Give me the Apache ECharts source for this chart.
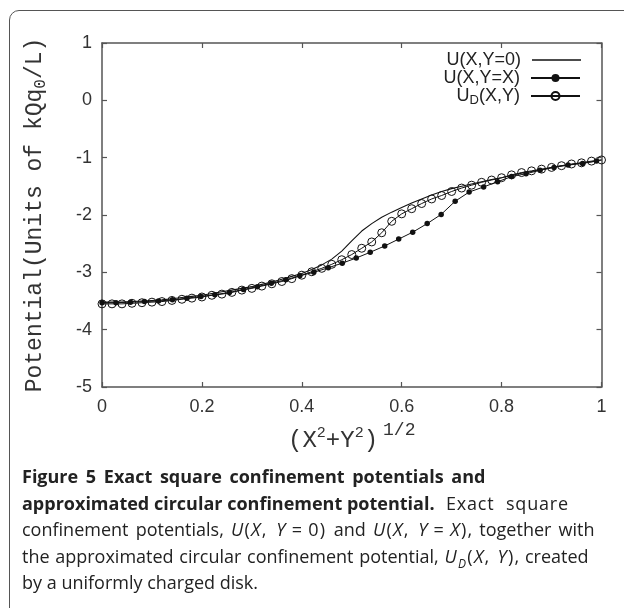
<!DOCTYPE html>
<html>
<head>
<meta charset="utf-8">
<script src="https://cdn.jsdelivr.net/npm/echarts@6/dist/echarts.min.js"></script>
<style>
  html, body { margin: 0; padding: 0; width: 624px; height: 608px; overflow: hidden; background: #fff; }
  #main { position: absolute; left: 0; top: 0; width: 624px; height: 608px; }
  #frame { position: absolute; left: 9px; top: 10px; width: 700px; height: 606px;
           border: 1.5px solid #555; border-radius: 10px; pointer-events: none; }
  #caption { position: absolute; left: 22px; top: 463px; white-space: nowrap;
             font-family: "Open Sans", sans-serif; font-size: 18px; line-height: 26.5px; color: #222; }
  #caption b { font-weight: bold; }
  #caption i { font-style: italic; }
  #caption sub { font-size: 12px; line-height: 0; }
  #caption .m { letter-spacing: 1.3px; }
  #caption .eq { margin: 0 5px; }
  #caption .l1 { word-spacing: 3px; }
  #caption .l2 { letter-spacing: 0.8px; word-spacing: 6px; }
  #caption .l3 { word-spacing: 2.5px; }
  #caption .l4 { word-spacing: 1px; }
</style>
</head>
<body>
<div id="main"></div>
<div id="frame"></div>
<div id="caption">
<b class="l1">Figure 5 Exact square confinement potentials and</b><br>
<b>approximated circular confinement potential.</b><span class="l2"> Exact square</span><br>
<span class="l3">confinement potentials, <span class="m"><i>U</i>(<i>X</i>, <i>Y</i><span class="eq">=</span>0)</span> and <span class="m"><i>U</i>(<i>X</i>, <i>Y</i><span class="eq">=</span><i>X</i>)</span>, together with</span><br>
<span class="l4">the approximated circular confinement potential, <span class="m"><i>U</i><sub><i>D</i></sub>(<i>X</i>, <i>Y</i>)</span>, created</span><br>
by a uniformly charged disk.
</div>
<script>
var chartDom = document.getElementById('main');
var myChart = echarts.init(chartDom);
var option;

// radial positions, step 0.02 (used by U(X,Y=0) and U_D)
var rGrid = [0, 0.02, 0.04, 0.06, 0.08, 0.10, 0.12, 0.14, 0.16, 0.18,
             0.20, 0.22, 0.24, 0.26, 0.28, 0.30, 0.32, 0.34, 0.36, 0.38,
             0.40, 0.42, 0.44, 0.46, 0.48, 0.50, 0.52, 0.54, 0.56, 0.58,
             0.60, 0.62, 0.64, 0.66, 0.68, 0.70, 0.72, 0.74, 0.76, 0.78,
             0.80, 0.82, 0.84, 0.86, 0.88, 0.90, 0.92, 0.94, 0.96, 0.98, 1.00];

// U(X,Y=0) solid line
var uAxis = [-3.52, -3.52, -3.52, -3.51, -3.50, -3.49, -3.48, -3.46, -3.44, -3.42,
             -3.40, -3.37, -3.34, -3.31, -3.28, -3.25, -3.21, -3.17, -3.12, -3.07,
             -3.02, -2.95, -2.87, -2.77, -2.63, -2.45, -2.28, -2.15, -2.04, -1.95,
             -1.87, -1.79, -1.72, -1.65, -1.59, -1.54, -1.50, -1.46, -1.42, -1.38,
             -1.35, -1.31, -1.27, -1.24, -1.21, -1.17, -1.14, -1.12, -1.09, -1.07, -1.04];

// U_D(X,Y) open circles
var uDisk = [-3.55, -3.55, -3.55, -3.54, -3.53, -3.52, -3.51, -3.49, -3.47, -3.45,
             -3.43, -3.40, -3.38, -3.35, -3.31, -3.28, -3.24, -3.20, -3.16, -3.11,
             -3.05, -2.99, -2.93, -2.86, -2.78, -2.69, -2.58, -2.47, -2.31, -2.11,
             -1.98, -1.89, -1.80, -1.72, -1.66, -1.59, -1.53, -1.48, -1.43, -1.39,
             -1.35, -1.30, -1.26, -1.23, -1.20, -1.17, -1.14, -1.11, -1.09, -1.06, -1.04];

// U(X,Y=X) filled dots, sampled along the diagonal
var rDiag = [0, 0.028, 0.057, 0.085, 0.113, 0.141, 0.170, 0.198, 0.226, 0.255,
             0.283, 0.311, 0.339, 0.368, 0.396, 0.424, 0.453, 0.481, 0.509, 0.537,
             0.566, 0.594, 0.622, 0.651, 0.679, 0.707, 0.735, 0.764, 0.792, 0.820,
             0.849, 0.877, 0.905, 0.933, 0.962, 0.990];
var uDiag = [-3.53, -3.53, -3.52, -3.51, -3.50, -3.48, -3.45, -3.42, -3.39, -3.35,
             -3.30, -3.25, -3.19, -3.13, -3.06, -3.00, -2.92, -2.84, -2.75, -2.65,
             -2.54, -2.42, -2.30, -2.15, -1.99, -1.76, -1.60, -1.51, -1.42, -1.33,
             -1.28, -1.22, -1.17, -1.13, -1.10, -1.06];

var xTicks = [0, 0.2, 0.4, 0.6, 0.8, 1];
var yTicks = [-5, -4, -3, -2, -1, 0, 1];

var seriesNames = ['U(X,Y=0)', 'U(X,Y=X)', 'U_D(X,Y)'];

function pairs(xs, ys) {
    return xs.map(function (x, i) { return [x, ys[i]]; });
}

var ink = '#111';
var axisInk = '#555';
var labelFont = { fontFamily: 'Liberation Sans', fontSize: 18, color: '#333' };
var frameLine = { show: true, onZero: false, lineStyle: { color: axisInk, width: 1.5 } };
var innerTick = { show: true, inside: true, length: 5, lineStyle: { color: axisInk, width: 1.2 } };

function legendFor(item, top, h) {
    return {
        data: [item],
        right: 43,
        top: top,
        orient: 'vertical',
        align: 'right',
        itemWidth: 49,
        itemHeight: h,
        itemGap: 0,
        padding: 0,
        selectedMode: false,
        textStyle: {
            fontFamily: 'Liberation Sans', fontSize: 18, color: '#222', padding: [0, 6, 0, 0],
            rich: {
                n: { fontFamily: 'Liberation Sans', fontSize: 18, color: '#222' },
                s: { fontFamily: 'Liberation Sans', fontSize: 13, color: '#222', padding: [9, 0, 0, 0] }
            }
        },
        formatter: function (n) {
            if (n === 'U_D(X,Y)') return '{n|U}{s|D}{n|(X,Y)}';
            return '{n|' + n + '}';
        }
    };
}

option = {
    animation: false,
    grid: { left: 102, right: 22.5, top: 43, bottom: 221 },
    legend: [
        legendFor({ name: seriesNames[0], icon: 'rect' }, 51, 1.4),
        legendFor(seriesNames[1], 69, 10),
        legendFor(seriesNames[2], 87, 10)
    ],
    xAxis: [
        {
            type: 'value',
            min: xTicks[0], max: xTicks[xTicks.length - 1], interval: 0.2,
            position: 'bottom',
            axisLine: frameLine,
            axisTick: innerTick,
            splitLine: { show: false },
            axisLabel: Object.assign({ margin: 11 }, labelFont),
            name: '{a|(X}{p|2}{a|+Y}{p|2}{a|)}{q|1/2}',
            nameLocation: 'middle',
            nameGap: 28,
            nameTextStyle: {
                rich: {
                    a: { fontFamily: 'Liberation Mono', fontSize: 24, color: '#333' },
                    p: { fontFamily: 'Liberation Mono', fontSize: 15, color: '#333', padding: [0, 0, 16, 0] },
                    q: { fontFamily: 'Liberation Mono', fontSize: 18, color: '#333', padding: [0, 0, 22, 5] }
                }
            }
        },
        {
            type: 'value', min: 0, max: 1, interval: 0.2, position: 'top',
            axisLine: frameLine, axisTick: innerTick,
            splitLine: { show: false }, axisLabel: { show: false }
        }
    ],
    yAxis: [
        {
            type: 'value',
            min: yTicks[0], max: yTicks[yTicks.length - 1], interval: 1,
            position: 'left',
            axisLine: frameLine,
            axisTick: innerTick,
            splitLine: { show: false },
            axisLabel: Object.assign({ margin: 10 }, labelFont),
            name: '{a|Potential(Units of kQq}{s|0}{a|/L)}',
            nameLocation: 'middle',
            nameGap: 53,
            nameTextStyle: {
                rich: {
                    a: { fontFamily: 'Liberation Mono', fontSize: 23, color: '#333' },
                    s: { fontFamily: 'Liberation Mono', fontSize: 16, color: '#333', padding: [12, 0, 0, 0] }
                }
            }
        },
        {
            type: 'value', min: -5, max: 1, interval: 1, position: 'right',
            axisLine: frameLine, axisTick: innerTick,
            splitLine: { show: false }, axisLabel: { show: false }
        }
    ],
    series: [
        {
            name: seriesNames[0],
            type: 'line',
            data: pairs(rGrid, uAxis),
            symbol: 'none',
            lineStyle: { color: ink, width: 1.1 },
            itemStyle: { color: ink },
            z: 2
        },
        {
            name: seriesNames[1],
            type: 'line',
            data: pairs(rDiag, uDiag),
            symbol: 'circle',
            symbolSize: 5.5,
            lineStyle: { color: ink, width: 1 },
            itemStyle: { color: ink },
            z: 3
        },
        {
            name: seriesNames[2],
            type: 'line',
            data: pairs(rGrid, uDisk),
            symbol: 'circle',
            symbolSize: 8,
            lineStyle: { color: ink, width: 1 },
            itemStyle: { color: 'rgba(255,255,255,0)', borderColor: ink, borderWidth: 1 },
            z: 4
        }
    ]
};

option && myChart.setOption(option);
</script>
</body>
</html>
